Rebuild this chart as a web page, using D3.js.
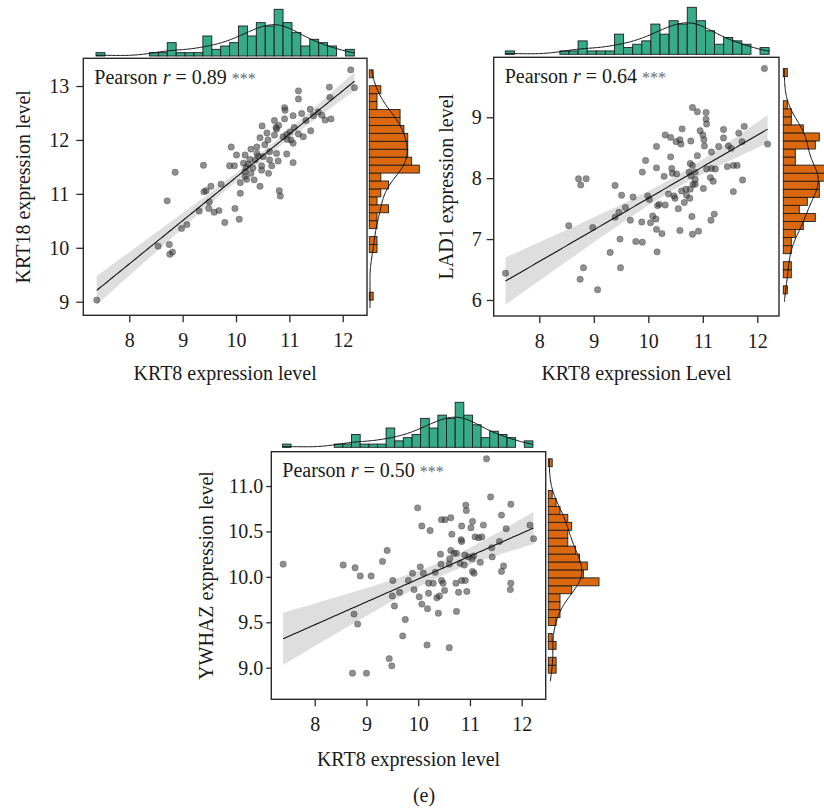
<!DOCTYPE html>
<html>
<head>
<meta charset="utf-8">
<script src="https://cdn.jsdelivr.net/npm/d3@7"></script>
<style>
  body { margin: 0; background: #fff; }
  svg { display: block; }
  text { font-family: "Liberation Serif", "DejaVu Serif", serif; fill: #1a1a1a; }
</style>
</head>
<body>
<svg id="fig" width="824" height="812"></svg>
<script>
// ---------- data ----------
// KRT8 marginal histogram (shared by all three panels), low -> high
const krt8BinRange = [7.376, 12.217];
const krt8Counts = [1,0,0,0,0,0,1,1,4,1,1,1,6,2,3,4,9,6,10,9,14,10,7,3,5,4,3,0,2];

// y-marginal histograms, low -> high
const krt18BinRange = [9.03, 13.30];
const krt18Counts = [1,0,0,0,0,0,2,2,0,2,2,5,2,3,5,3,13,11,10,10,10,9,8,8,2,2,3,0,1];
const lad1BinRange = [6.10, 9.80];
const lad1Counts = [1,0,2,2,0,2,2,3,5,8,4,6,9,9,12,12,3,3,8,9,5,2,2,1,0,0,0,1];
const ywhazBinRange = [8.94, 11.30];
const ywhazCounts = [2,2,0,2,1,0,2,3,3,3,6,13,9,10,8,7,5,5,6,5,3,2,1,0,0,0,1];

// samples: [KRT8, gene]
const krt18Points = [
  [12.15,13.30],[12.22,12.97],[11.75,12.98],[11.76,12.79],[11.17,12.91],[11.17,12.76],[10.91,12.60],
  [10.92,12.55],[11.07,12.45],[11.23,12.49],[11.39,12.57],[11.54,12.52],[11.61,12.46],[11.67,12.37],
  [11.78,12.39],[10.91,12.39],[10.72,12.36],[10.49,12.26],[10.75,12.23],[10.76,12.20],[11.09,12.23],
  [11.01,12.15],[11.31,12.36],[11.40,12.17],[11.17,12.11],[11.26,12.06],[10.58,12.13],[10.45,12.04],
  [10.72,12.09],[10.88,12.06],[10.96,12.01],[11.03,12.00],[11.07,11.94],[10.54,11.91],[10.39,11.87],
  [10.28,11.83],[9.91,11.87],[10.01,11.72],[10.17,11.72],[10.39,11.75],[10.63,11.78],[10.76,11.75],
  [10.95,11.74],[10.26,11.64],[10.36,11.63],[10.51,11.69],[10.63,11.63],[10.79,11.61],[11.07,11.58],
  [10.14,11.57],[10.23,11.55],[9.39,11.53],[9.88,11.52],[9.97,11.52],[10.19,11.49],[10.48,11.52],
  [10.67,11.52],[10.17,11.41],[10.28,11.38],[10.48,11.44],[10.61,11.38],[8.86,11.40],[10.17,11.32],
  [10.20,11.27],[9.40,11.04],[9.44,11.06],[9.53,11.14],[9.72,11.18],[10.08,11.21],[10.34,11.26],
  [10.45,11.14],[10.08,11.01],[10.81,11.06],[10.83,10.96],[8.71,10.87],[9.50,10.85],[9.31,10.68],
  [9.49,10.73],[9.59,10.66],[9.68,10.69],[9.98,10.73],[9.79,10.47],[10.06,10.53],[8.98,10.36],
  [9.08,10.43],[8.54,10.03],[8.75,10.06],[8.76,9.88],[8.81,9.92],[7.39,9.03],
  [10.80,12.27],[10.95,12.10],[10.32,11.48],[10.60,12.00],[11.45,12.45],[10.42,11.70]
];
const lad1Points = [
  [12.13,9.80],[10.81,9.16],[10.90,9.09],[11.06,9.08],[11.06,8.97],[11.07,8.89],[10.95,8.78],
  [11.00,8.71],[11.02,8.63],[11.03,8.53],[10.62,8.81],[10.31,8.71],[10.41,8.67],[10.51,8.60],
  [10.58,8.63],[10.60,8.56],[10.78,8.61],[10.15,8.52],[11.38,8.80],[11.38,8.66],[11.76,8.85],
  [11.66,8.74],[11.72,8.60],[11.29,8.52],[11.47,8.53],[11.52,8.49],[11.16,8.43],[12.19,8.56],
  [10.41,8.35],[10.90,8.37],[9.95,8.29],[10.77,8.24],[10.81,8.21],[10.43,8.16],[10.15,8.17],
  [10.44,8.08],[10.52,8.07],[9.89,8.10],[10.29,8.03],[10.75,8.10],[10.78,8.04],[10.86,8.10],
  [11.07,8.15],[11.16,8.16],[11.23,8.15],[11.45,8.19],[11.56,8.21],[11.63,8.21],[11.73,7.97],
  [11.14,8.01],[11.19,7.95],[10.86,7.98],[10.86,7.90],[10.82,7.90],[10.77,7.82],[10.69,7.82],
  [11.01,7.83],[10.61,7.79],[10.70,7.72],[10.37,7.74],[10.47,7.71],[11.56,7.78],[8.72,7.99],
  [8.86,7.99],[8.76,7.89],[9.39,7.88],[9.51,7.72],[9.72,7.69],[9.99,7.71],[10.02,7.65],
  [10.49,7.67],[10.66,7.60],[10.55,7.50],[10.76,7.67],[9.58,7.52],[9.46,7.44],[9.39,7.36],
  [10.17,7.55],[10.20,7.57],[10.31,7.56],[10.08,7.38],[10.14,7.33],[9.88,7.28],[10.04,7.27],
  [9.67,7.31],[8.54,7.22],[8.98,7.19],[10.15,7.16],[10.25,7.09],[10.58,7.14],[10.80,7.37],
  [10.81,7.08],[10.92,7.13],[11.15,7.31],[11.21,7.41],[9.48,7.00],[9.77,6.96],[9.89,6.95],
  [9.30,6.78],[10.16,6.79],[8.81,6.53],[8.75,6.34],[9.49,6.53],[9.07,6.17],[7.38,6.44]
];
const ywhazPoints = [
  [11.32,11.30],[7.39,10.14],[11.40,10.88],[11.79,10.80],[9.99,10.76],[10.92,10.79],[10.93,10.73],
  [10.45,10.63],[10.52,10.63],[10.63,10.65],[11.61,10.68],[11.05,10.61],[10.07,10.56],[10.23,10.51],
  [10.84,10.56],[11.02,10.54],[11.26,10.57],[11.70,10.53],[12.16,10.57],[12.23,10.42],[10.65,10.47],
  [10.83,10.41],[10.84,10.39],[11.10,10.44],[11.17,10.43],[11.23,10.44],[11.57,10.39],[9.40,10.29],
  [10.63,10.29],[10.69,10.26],[10.74,10.26],[10.43,10.25],[10.61,10.20],[10.90,10.24],[10.97,10.22],
  [11.04,10.20],[11.07,10.23],[11.42,10.32],[11.43,10.22],[9.31,10.17],[8.55,10.13],[8.78,10.10],
  [8.88,10.01],[9.09,10.01],[10.04,10.11],[10.44,10.14],[10.60,10.14],[10.81,10.15],[10.89,10.13],
  [11.20,10.16],[11.65,10.12],[9.89,10.04],[10.10,10.04],[10.33,10.05],[11.05,10.06],[11.08,10.04],
  [11.61,10.06],[9.51,9.96],[9.81,9.96],[10.20,9.93],[10.29,9.93],[10.45,9.96],[10.48,9.93],
  [10.73,9.93],[10.84,9.96],[10.91,9.96],[11.79,9.93],[11.78,9.86],[9.64,9.83],[9.92,9.86],
  [10.20,9.82],[10.51,9.85],[10.78,9.83],[10.94,9.84],[10.36,9.77],[8.76,9.59],[8.83,9.48],
  [9.50,9.79],[9.54,9.68],[9.75,9.53],[9.70,9.35],[10.02,9.78],[10.07,9.70],[10.18,9.65],
  [10.41,9.79],[10.39,9.60],[10.74,9.62],[10.17,9.25],[10.60,9.22],[9.44,9.10],[9.49,9.02],
  [8.73,8.94],[9.00,8.94]
];

// ticks and labels
const xTicks = [8, 9, 10, 11, 12];
const krt18Ticks = [9, 10, 11, 12, 13];
const lad1Ticks = [6, 7, 8, 9];
const ywhazTicks = [9.0, 9.5, 10.0, 10.5, 11.0];
const pearsonR = ["0.89", "0.64", "0.50"];
const xLabels = ["KRT8 expression level", "KRT8 expression Level", "KRT8 expression level"];
const yLabels = ["KRT18 expression level", "LAD1 expression level", "YWHAZ expression level"];
const figureTag = "(e)";

// ---------- layout ----------
const panels = [
  { pts: krt18Points, counts: krt18Counts, binRange: krt18BinRange, yTicks: krt18Ticks, yFmt: d3.format("d"),
    box: { l: 83.3, r: 367, t: 58.3, b: 315.3 }, xDom: [7.138, 12.455], yDom: [8.748, 13.514],
    topBase: 56, topMax: 46.7, rightLeft: 369.3, rightMax: 50,
    yTickSize: 7, yTickPad: 7, yLabelX: 30, xLabelY: 380 },
  { pts: lad1Points, counts: lad1Counts, binRange: lad1BinRange, yTicks: lad1Ticks, yFmt: d3.format("d"),
    box: { l: 493.7, r: 779, t: 57.3, b: 316 }, xDom: [7.163, 12.398], yDom: [5.737, 9.985],
    topBase: 54.3, topMax: 47, rightLeft: 783.3, rightMax: 48,
    yTickSize: 7, yTickPad: 5, yLabelX: 453, xLabelY: 380 },
  { pts: ywhazPoints, counts: ywhazCounts, binRange: ywhazBinRange, yTicks: ywhazTicks, yFmt: d3.format(".1f"),
    box: { l: 271.3, r: 545.7, t: 451.7, b: 699.3 }, xDom: [7.161, 12.464], yDom: [8.652, 11.378],
    topBase: 447.3, topMax: 45, rightLeft: 548.3, rightMax: 50.7,
    yTickSize: 5, yTickPad: 3, yLabelX: 213, xLabelY: 765.5 }
];

const svg = d3.select("#fig");

// Gaussian KDE over binned counts, scaled to count units
function binnedKde(range, counts, grid) {
  const w = (range[1] - range[0]) / counts.length;
  const centers = counts.map((c, i) => range[0] + (i + 0.5) * w);
  const n = d3.sum(counts);
  const mean = d3.sum(centers, (c, i) => c * counts[i]) / n;
  const sd = Math.sqrt(d3.sum(centers, (c, i) => counts[i] * (c - mean) ** 2) / (n - 1));
  const bw = sd * Math.pow(n, -0.2);
  return grid.map(g => [g, w * d3.sum(centers, (c, i) =>
    counts[i] * Math.exp(-0.5 * ((g - c) / bw) ** 2)) / (bw * Math.sqrt(2 * Math.PI))]);
}

// least squares fit with 95% confidence band of the mean
function linFit(pts) {
  const n = pts.length;
  const mx = d3.mean(pts, d => d[0]), my = d3.mean(pts, d => d[1]);
  const sxx = d3.sum(pts, d => (d[0] - mx) ** 2);
  const sxy = d3.sum(pts, d => (d[0] - mx) * (d[1] - my));
  const b = sxy / sxx, a = my - b * mx;
  const s = Math.sqrt(d3.sum(pts, d => (d[1] - a - b * d[0]) ** 2) / (n - 2));
  const ext = d3.extent(pts, d => d[0]);
  return d3.range(0, 101).map(i => {
    const x = ext[0] + (ext[1] - ext[0]) * i / 100;
    const yh = a + b * x;
    const h = 1.98 * s * Math.sqrt(1 / n + (x - mx) ** 2 / sxx);
    return { x, y: yh, lo: yh - h, hi: yh + h };
  });
}

panels.forEach((p, pi) => {
  const g = svg.append("g");
  const x = d3.scaleLinear().domain(p.xDom).range([p.box.l, p.box.r]);
  const y = d3.scaleLinear().domain(p.yDom).range([p.box.b, p.box.t]);

  // ---- top marginal: KRT8 histogram ----
  const xw = (krt8BinRange[1] - krt8BinRange[0]) / krt8Counts.length;
  const hTop = d3.scaleLinear().domain([0, d3.max(krt8Counts)]).range([0, p.topMax]);
  g.append("g").selectAll("rect")
    .data(krt8Counts.map((c, i) => ({ c, x0: krt8BinRange[0] + i * xw })).filter(d => d.c > 0))
    .join("rect")
    .attr("x", d => x(d.x0)).attr("width", d => x(d.x0 + xw) - x(d.x0))
    .attr("y", d => p.topBase - hTop(d.c)).attr("height", d => hTop(d.c))
    .attr("fill", "#1b9e77").attr("fill-opacity", 0.88)
    .attr("stroke", "#1e1e1e").attr("stroke-width", 0.9);
  const gridX = d3.range(0, 201).map(i => krt8BinRange[0] + (krt8BinRange[1] - krt8BinRange[0]) * i / 200);
  g.append("path")
    .datum(binnedKde(krt8BinRange, krt8Counts, gridX))
    .attr("d", d3.line().x(d => x(d[0])).y(d => p.topBase - hTop(d[1])).curve(d3.curveBasis))
    .attr("fill", "none").attr("stroke", "#111").attr("stroke-width", 1);

  // ---- right marginal: gene histogram ----
  const yw = (p.binRange[1] - p.binRange[0]) / p.counts.length;
  const hRight = d3.scaleLinear().domain([0, d3.max(p.counts)]).range([0, p.rightMax]);
  g.append("g").selectAll("rect")
    .data(p.counts.map((c, i) => ({ c, y0: p.binRange[0] + i * yw })).filter(d => d.c > 0))
    .join("rect")
    .attr("x", p.rightLeft).attr("width", d => hRight(d.c))
    .attr("y", d => y(d.y0 + yw)).attr("height", d => y(d.y0) - y(d.y0 + yw))
    .attr("fill", "#d95f02").attr("fill-opacity", 0.95)
    .attr("stroke", "#1e1e1e").attr("stroke-width", 0.9);
  const gridY = d3.range(0, 201).map(i => p.binRange[0] - yw + (p.binRange[1] - p.binRange[0] + yw) * i / 200);
  g.append("path")
    .datum(binnedKde(p.binRange, p.counts, gridY))
    .attr("d", d3.line().x(d => p.rightLeft + hRight(d[1])).y(d => y(d[0])).curve(d3.curveBasis))
    .attr("fill", "none").attr("stroke", "#111").attr("stroke-width", 1);

  // ---- joint scatter with regression ----
  const fit = linFit(p.pts);
  g.append("path").datum(fit)
    .attr("d", d3.area().x(d => x(d.x)).y0(d => y(d.lo)).y1(d => y(d.hi)))
    .attr("fill", "#c8c8c8").attr("fill-opacity", 0.6);
  g.append("g").selectAll("circle").data(p.pts).join("circle")
    .attr("cx", d => x(d[0])).attr("cy", d => y(d[1])).attr("r", 3.2)
    .attr("fill", "#333").attr("fill-opacity", 0.55)
    .attr("stroke", "#333").attr("stroke-opacity", 0.5).attr("stroke-width", 0.6);
  g.append("path").datum(fit)
    .attr("d", d3.line().x(d => x(d.x)).y(d => y(d.y)))
    .attr("fill", "none").attr("stroke", "#111").attr("stroke-width", 1.1);

  // frame
  g.append("rect")
    .attr("x", p.box.l).attr("y", p.box.t)
    .attr("width", p.box.r - p.box.l).attr("height", p.box.b - p.box.t)
    .attr("fill", "none").attr("stroke", "#2a2a2a").attr("stroke-width", 1.4);

  // axes
  const ax = g.append("g").attr("transform", `translate(0,${p.box.b})`)
    .call(d3.axisBottom(x).tickValues(xTicks).tickFormat(d3.format("d")).tickSize(7).tickPadding(10.5));
  const ay = g.append("g").attr("transform", `translate(${p.box.l},0)`)
    .call(d3.axisLeft(y).tickValues(p.yTicks).tickFormat(p.yFmt).tickSize(p.yTickSize).tickPadding(p.yTickPad));
  [ax, ay].forEach(a => {
    a.select(".domain").remove();
    a.selectAll(".tick line").attr("stroke", "#2a2a2a").attr("stroke-width", 1.3);
    a.selectAll(".tick text").attr("font-size", 20).attr("fill", "#1a1a1a")
      .attr("font-family", "Liberation Serif, serif");
  });

  // axis titles
  g.append("text").attr("x", (p.box.l + p.box.r) / 2).attr("y", p.xLabelY)
    .attr("text-anchor", "middle").attr("font-size", 20).text(xLabels[pi]);
  g.append("text").attr("transform", `translate(${p.yLabelX},${(p.box.t + p.box.b) / 2}) rotate(-90)`)
    .attr("text-anchor", "middle").attr("font-size", 20).text(yLabels[pi]);

  // correlation annotation
  const t = g.append("text").attr("x", p.box.l + 11).attr("y", p.box.t + 25.7).attr("font-size", 20);
  t.append("tspan").text("Pearson ");
  t.append("tspan").attr("font-style", "italic").text("r");
  t.append("tspan").text(" = " + pearsonR[pi] + " ");
  t.append("tspan").attr("font-size", 16).attr("fill", "#6a6a6a").text("***");
});

svg.append("text").attr("x", 424).attr("y", 802).attr("text-anchor", "middle")
  .attr("font-size", 20).text(figureTag);
</script>
</body>
</html>
